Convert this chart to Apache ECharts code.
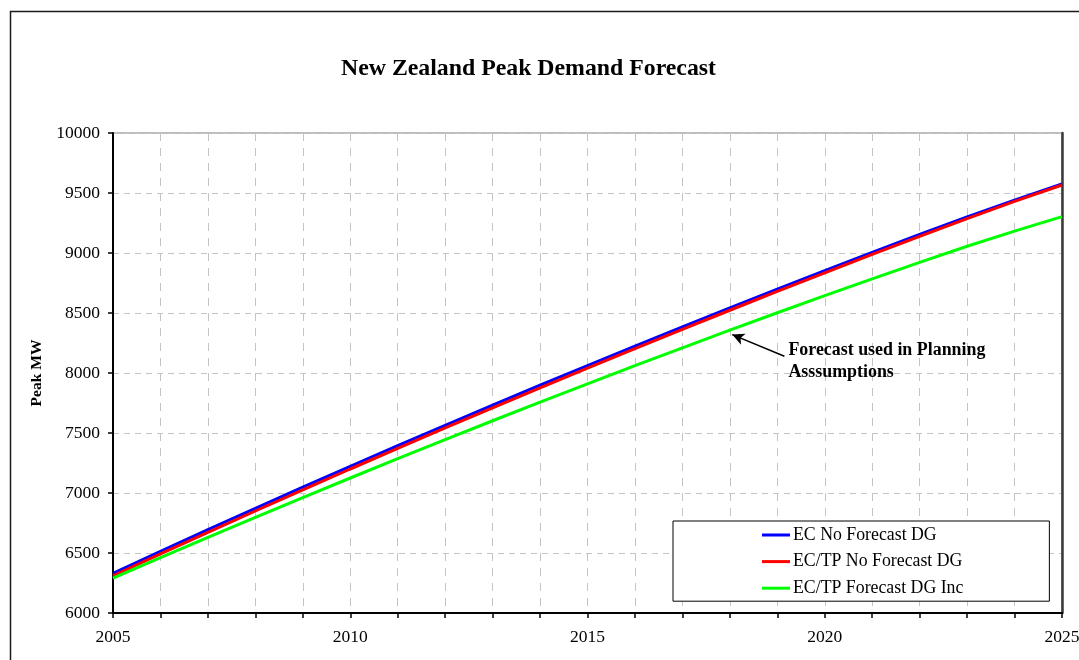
<!DOCTYPE html>
<html>
<head>
<meta charset="utf-8">
<script src="https://cdn.jsdelivr.net/npm/echarts@6/dist/echarts.min.js"></script>
<style>
  html, body { margin: 0; padding: 0; background: #ffffff; }
  #chart { width: 1079px; height: 660px; }
</style>
</head>
<body>
<div id="chart"></div>
<script>
// Forecast years and peak demand series (MW)
const years = [2005, 2006, 2007, 2008, 2009, 2010, 2011, 2012, 2013, 2014, 2015,
               2016, 2017, 2018, 2019, 2020, 2021, 2022, 2023, 2024, 2025];
const ecNoForecastDG = [6330, 6513, 6694, 6872, 7048, 7222, 7394, 7564, 7732, 7898, 8062,
                        8224, 8384, 8542, 8698, 8852, 9004, 9154, 9300, 9440, 9575];
const ecTpNoForecastDG = [6310, 6492, 6672, 6850, 7026, 7200, 7372, 7542, 7710, 7876, 8040,
                          8203, 8364, 8523, 8680, 8835, 8988, 9139, 9287, 9430, 9567];
const ecTpForecastDGInc = [6290, 6462, 6630, 6797, 6962, 7125, 7286, 7445, 7602, 7757, 7910,
                           8061, 8210, 8357, 8502, 8645, 8785, 8922, 9056, 9182, 9303];
const seriesNames = ['EC No Forecast DG', 'EC/TP No Forecast DG', 'EC/TP Forecast DG Inc'];
const seriesColors = ['#0000ff', '#ff0000', '#00ff00'];
const yTicks = { min: 6000, max: 10000, step: 500 };
const annotationText = 'Forecast used in Planning\nAsssumptions';
// arrow from the note towards the planning forecast line (year, MW)
const arrowTail = [2019.15, 8140];
const arrowHead = [2018.05, 8320];

const FONT = '"Liberation Serif", "Times New Roman", serif';

const pair = arr => years.map((y, i) => [y, arr[i]]);

const chart = echarts.init(document.getElementById('chart'), null, { renderer: 'canvas' });

const lineSeries = [ecNoForecastDG, ecTpNoForecastDG, ecTpForecastDGInc].map((arr, i) => ({
  name: seriesNames[i],
  type: 'line',
  data: pair(arr),
  showSymbol: false,
  symbol: 'none',
  smooth: false,
  lineStyle: { color: seriesColors[i], width: 3 },
  itemStyle: { color: seriesColors[i] },
  z: 3 + i,
  animation: false
}));

lineSeries[2].markLine = {
  silent: true,
  symbol: ['none', 'arrow'],
  symbolSize: [9, 12],
  lineStyle: { color: '#000000', width: 1.5, type: 'solid' },
  label: { show: false },
  data: [[{ coord: arrowTail }, { coord: arrowHead }]],
  animation: false
};

const frame = {
  type: 'rect',
  left: 8,
  top: 9,
  silent: true,
  shape: { width: 1200, height: 800 },
  style: { fill: 'none', stroke: '#1a1a1a', lineWidth: 1.5 },
  z: -10
};

const option = {
  animation: false,
  backgroundColor: '#ffffff',
  title: {
    text: 'New Zealand Peak Demand Forecast',
    left: 341,
    top: 57,
    padding: 0,
    textStyle: { fontFamily: FONT, fontSize: 23.8, fontWeight: 'bold', color: '#000000' }
  },
  legend: {
    orient: 'vertical',
    left: 673,
    top: 521,
    padding: [5, 86, 4, 89],
    itemGap: 8.6,
    itemWidth: 28,
    itemHeight: 3,
    itemStyle: { borderWidth: 0 },
    icon: 'rect',
    backgroundColor: '#ffffff',
    borderColor: '#000000',
    borderWidth: 1,
    borderRadius: 0,
    selectedMode: false,
    textStyle: { fontFamily: FONT, fontSize: 17.8, color: '#000000', padding: [0, 0, 0, -2] },
    data: seriesNames
  },
  grid: {
    left: 113,
    top: 133,
    right: 17,
    bottom: 47,
    outerBoundsMode: 'none',
    containLabel: false,
    show: true,
    borderColor: '#7a7a7a',
    borderWidth: 1,
    backgroundColor: 'transparent'
  },
  xAxis: {
    type: 'value',
    min: 2005,
    max: 2025,
    interval: 1,
    axisLine: { show: true, onZero: false, lineStyle: { color: '#000000', width: 2 } },
    axisTick: { show: true, inside: false, length: 5, lineStyle: { color: '#000000', width: 1.5 } },
    axisLabel: {
      margin: 15,
      fontFamily: FONT,
      fontSize: 17.5,
      color: '#000000',
      showMinLabel: true,
      showMaxLabel: true,
      formatter: v => (v % 5 === 0 ? String(v) : '')
    },
    splitLine: { show: true, lineStyle: { color: '#c4c4c4', width: 1, type: [8, 7] } }
  },
  yAxis: [{
    type: 'value',
    min: yTicks.min,
    max: yTicks.max,
    interval: yTicks.step,
    name: 'Peak MW',
    nameLocation: 'middle',
    nameGap: 60,
    nameRotate: 90,
    nameTextStyle: { fontFamily: FONT, fontSize: 15.6, fontWeight: 'bold', color: '#000000' },
    axisLine: { show: true, lineStyle: { color: '#000000', width: 2 } },
    axisTick: { show: true, inside: false, length: 5, lineStyle: { color: '#000000', width: 1.5 } },
    axisLabel: {
      margin: 13,
      fontFamily: FONT,
      fontSize: 17.5,
      color: '#000000',
      formatter: v => String(v)
    },
    splitLine: { show: true, lineStyle: { color: '#c4c4c4', width: 1, type: [6, 5] } }
  }, {
    type: 'value',
    position: 'right',
    min: yTicks.min,
    max: yTicks.max,
    interval: yTicks.step,
    axisLine: { show: true, lineStyle: { color: '#3a3a3a', width: 2.5 } },
    axisTick: { show: false },
    axisLabel: { show: false },
    splitLine: { show: false }
  }],
  series: lineSeries,
  graphic: [frame]
};

chart.setOption(option);

// place the note text next to the arrow tail
const tailPx = chart.convertToPixel({ xAxisIndex: 0, yAxisIndex: 0 }, arrowTail);
chart.setOption({
  graphic: [frame, {
    type: 'text',
    x: tailPx[0] + 4,
    y: tailPx[1] - 17,
    silent: true,
    style: {
      text: annotationText,
      fontFamily: FONT,
      fontSize: 17.9,
      fontWeight: 'bold',
      lineHeight: 22,
      fill: '#000000',
      textAlign: 'left',
      textVerticalAlign: 'top'
    },
    z: 10
  }]
});
</script>
</body>
</html>
